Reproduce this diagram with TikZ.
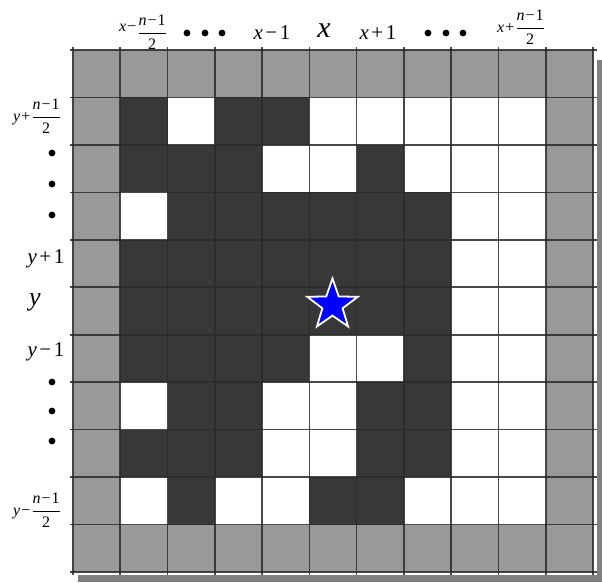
\documentclass[tikz,border=0pt]{standalone}
\usepackage{fontspec}
\setmainfont{Liberation Serif}
\usetikzlibrary{shapes.geometric}
\newcommand{\myfr}[2]{$\displaystyle\frac{\mbox{#1}}{\mbox{#2}}$}
\newcommand{\opsp}[1]{\kern2.5pt#1\kern2.5pt}
\newcommand{\smsp}[1]{\kern1pt#1\kern1pt}
\definecolor{cellgray}{HTML}{999999}
\definecolor{celldark}{HTML}{383838}
\definecolor{gridline}{HTML}{2a2a2a}
\definecolor{shadowgray}{HTML}{808080}
\tikzset{
  lbl/.style={inner sep=0pt, font=\fontsize{21}{23}\selectfont},
  frlbl/.style={inner sep=0pt, font=\fontsize{16}{18}\selectfont},
  biglbl/.style={inner sep=0pt, font=\fontsize{30}{32}\selectfont},
  dotmark/.style={fill=black, draw=none},
  gline/.style={draw=gridline, line width=1.7pt, opacity=0.85},
}
\begin{document}
\begin{tikzpicture}[x=1pt,y=-1pt]
\useasboundingbox (0,0) rectangle (602,582);
\def\gx{73}\def\gy{50}\def\cw{47.27}\def\ch{47.45}
% shadow
\fill[shadowgray] (78,60) rectangle (602,582);
\fill[white] (64,44) rectangle (597,575);
% outer gray ring
\fill[cellgray] (\gx,\gy) rectangle ({\gx+11*\cw},{\gy+11*\ch});
\fill[white] ({\gx+\cw},{\gy+\ch}) rectangle ({\gx+10*\cw},{\gy+10*\ch});
% dark cells
\foreach \c/\r in {1/1,3/1,4/1,
  1/2,2/2,3/2,6/2,
  2/3,3/3,4/3,5/3,6/3,7/3,
  1/4,2/4,3/4,4/4,5/4,6/4,7/4,
  1/5,2/5,3/5,4/5,5/5,6/5,7/5,
  1/6,2/6,3/6,4/6,7/6,
  2/7,3/7,6/7,7/7,
  1/8,2/8,3/8,6/8,7/8,
  2/9,5/9,6/9}
  \fill[celldark] ({\gx+\c*\cw},{\gy+\r*\ch}) rectangle ({\gx+(\c+1)*\cw},{\gy+(\r+1)*\ch});
% grid lines
\foreach \i in {0,...,11}{
  \draw[gline] ({\gx+\i*\cw},{\gy-3}) -- ({\gx+\i*\cw},{\gy+11*\ch+3});
  \draw[gline] ({\gx-3},{\gy+\i*\ch}) -- ({\gx+11*\cw+4},{\gy+\i*\ch});
}
% star
\node[star, star points=5, star point ratio=2.5, minimum size=53pt, inner sep=0pt,
      fill=blue, draw=white, line width=1.8pt] (star) at (332.5,305) {};
% top labels
\node[frlbl] (tl1) at (143,32) {\textit{x}\smsp{−}\raisebox{-6pt}{\myfr{\textit{n}\smsp{−}1}{2}}};
\foreach \xx in {187,205,222}
  \fill[dotmark] (\xx,33) circle (3.4);
\node[lbl] (tl2) at (272,33) {\textit{x}\opsp{−}1};
\node[biglbl] (tl3) at (324,31) {\textit{x}};
\node[lbl] (tl4) at (378,33) {\textit{x}\opsp{+}1};
\foreach \xx in {428,446,463}
  \fill[dotmark] (\xx,33) circle (3.4);
\node[frlbl] (tl5) at (521,27) {\textit{x}\smsp{+}\myfr{\textit{n}\smsp{−}1}{2}};
% left labels
\node[frlbl] (ll1) at (37,116) {\textit{y}\smsp{+}\myfr{\textit{n}\smsp{−}1}{2}};
\foreach \yy in {153,184,215}
  \fill[dotmark] (52,\yy) circle (3.4);
\node[lbl] (ll2) at (46,259) {\textit{y}\opsp{+}1};
\node[biglbl, font=\fontsize{26}{28}\selectfont] (ll3) at (35,302) {\textit{y}};
\node[lbl] (ll4) at (46,352) {\textit{y}\opsp{−}1};
\foreach \yy in {382,411,441}
  \fill[dotmark] (52,\yy) circle (3.4);
\node[frlbl] (ll5) at (37,510) {\textit{y}\smsp{−}\myfr{\textit{n}\smsp{−}1}{2}};
\end{tikzpicture}
\end{document}
